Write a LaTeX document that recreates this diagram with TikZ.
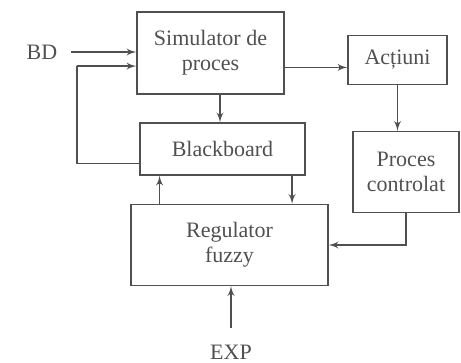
\documentclass[tikz,border=0pt]{standalone}
\usepackage{fontspec}
\setmainfont{Liberation Serif}
\usepackage{tikz}
\usetikzlibrary{positioning,arrows,calc}
\definecolor{ink}{HTML}{505050}
\tikzset{
    block/.style = {
        draw=ink,
        shape=rectangle,
        align=center,
        inner sep=0pt,
        text=ink,
        line width=0.7pt
    },
    label/.style = {
        shape=rectangle,
        text=ink
    },
    wire/.style = {
        draw=ink,
        line width=0.7pt,
        ->
    },
    >=latex',
}

\begin{document}
\begin{tikzpicture}[x=0.5pt,y=-0.5pt,font=\fontsize{11}{12.5}\selectfont]
                \useasboundingbox (0,0) rectangle (461,363);
                \node[block,minimum width=73.5pt,minimum height=41pt] (sim) at (210.5,53) {Simulator de\\proces};
                \node[block,minimum width=49.5pt,minimum height=24.5pt] (act) at (397.5,60) {Acțiuni};
                \node[block,minimum width=82.5pt,minimum height=26pt] (bb) at (222.5,149) {Blackboard};
                \node[block,minimum width=53pt,minimum height=40.5pt] (proc) at (406,172) {Proces\\controlat};
                \node[block,minimum width=98.5pt,minimum height=40.5pt] (reg) at (229.5,245) {Regulator\\fuzzy};
                \node[label] (bd) at (42,52) {BD};
                \node[label] (exp) at (231,352) {EXP};
                \coordinate (fb) at (77,66);

                \path[wire] ([xshift=3.5pt]bd.east) -- (bd -| sim.west);
                \path[wire] (bb.190) -| (fb) |- (sim.190);
                \path[wire] ([xshift=4.75pt]sim.south) -- ([xshift=4.75pt]sim.south |- bb.north);
                \path[wire] (sim.349) -- (sim.349 -| act.west);
                \path[wire] (act.south) -- (act.south |- proc.north);
                \path[wire] (bb.203 |- reg.north) -- (bb.203);
                \path[wire] (bb.339) -- (bb.339 |- reg.north);
                \path[wire] (proc.south) |- (reg.east);
                \path[wire] ([yshift=5pt]exp.north) -- (exp.north |- reg.south);
            \end{tikzpicture}
\end{document}
